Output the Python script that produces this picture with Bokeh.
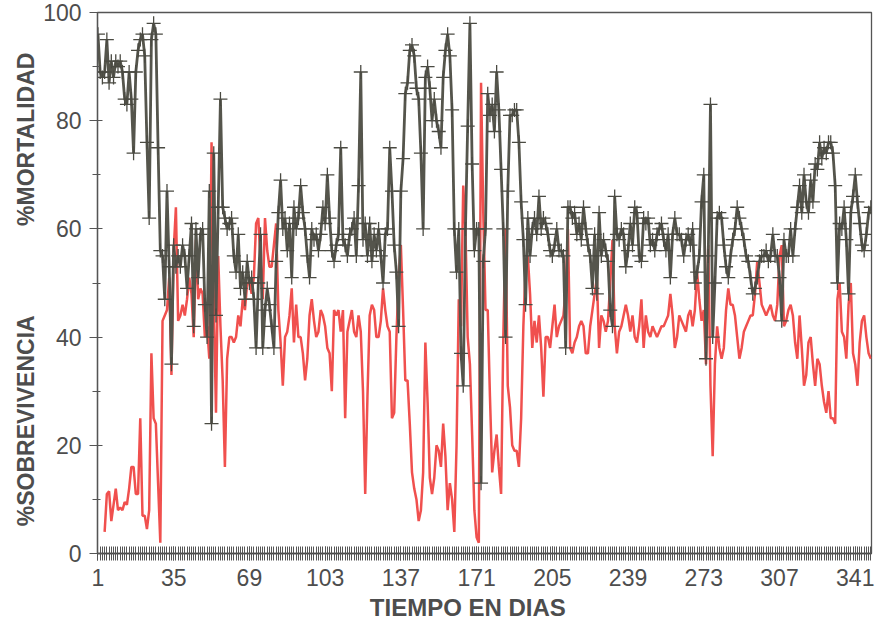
from bokeh.plotting import figure
from bokeh.models import Range1d, FixedTicker
from bokeh.embed import file_html
from bokeh.resources import INLINE

NaN = float("nan")
NB = "\u00a0"

days = list(range(1, 349))

mortalidad = [
    96, 89, 88, 89, 95, 87, 91, 88, 91, 90,
    91, 89, 84, 83, 89, 84, 74, 89, 93, 95,
    96, 92, 76, 62, 95, 98, 96, 75, 56, 55,
    47, 67, 53, 35, 57, 53, 55, 53, 57, 55,
    49, 55, 61, 42, 60, 51, 59, 60, 46, 40,
    67, 24, 74, 44, 64, 84, 64, 62, 60, 61,
    62, 55, 52, 59, 49, 52, 47, 54, 50, 51,
    47, 38, 50, 59, 38, 45, 49, 46, 42, 38,
    54, 63, 69, 60, 62, 56, 61, 51, 64, 60,
    62, 68, 63, 60, 55, 51, 60, 58, 59, 56,
    59, 64, 61, 70, 62, 56, 54, 57, 59, 75,
    58, 57, 55, 59, 60, 62, 55, 68, 89, 58,
    61, 55, 61, 54, 59, 56, 60, 55, 50, 59,
    60, 75, 67, 57, 52, 42, 67, 73, 85, 87,
    93, 94, 92, 86, 84, 74, 60, 88, 90, 86,
    80, 84, 80, 78, 75, 88, 93, 96, 92, 82,
    60, 52, 60, 37, 31, 60, 79, 98, 72, 56,
    60, 60, 13, 54, 60, 85, 81, 83, 78, 89,
    82, 71, 60, 40, 67, 81, 81, 82, 82, 76,
    65, 58, 46, 62, 55, 60, 62, 59, 66, 60,
    62, 61, 59, 56, 55, 57, 60, 56, 56, 55,
    38, 64, 64, 62, 63, 59, 61, 58, 64, 60,
    57, 55, 49, 59, 48, 63, 55, 58, 56, 54,
    45, 42, 66, 59, 58, 60, 59, 53, 56, 61,
    57, 64, 63, 55, 54, 62, 61, 62, 57, 58,
    56, 59, 60, 61, 58, 56, 59, 51, 59, 62,
    59, 59, 58, 55, 58, 59, 57, 60, 50, 52,
    55, 65, 70, 36, 55, 83, 40, 50, 62, 63,
    62, 57, 53, 51, 55, 58, 60, 64, 62, 60,
    58, 55, 54, 51, 48, 49, 51, 54, 55, 55,
    56, 54, 55, 59, 55, 55, 51, 43, 58, 55,
    55, 60, 55, 60, 64, 68, 63, 70, 65, 63,
    69, 65, 72, 71, 76, 73, 75, 74, 76, 76,
    74, 68, 50, 61, 60, 64, 58, 48, 63, 66,
    70, 65, 61, 57, 56, 59, 63, 64,
]

sobrevivencia = [
    NaN, NaN, NaN, 4, 11, 11.5, 6, 9, 12, 8,
    8.5, 8, 9.5, 9, 12, 16, 16, 11, 11, 25,
    7, 7, 4.5, 8, 37, 25, 24, 13, 2, 43,
    44, 45, 51, 33, 56, 64, 43, 44, 46, 44,
    47, 51, 48, 40, 58, 47, 49, 48, 40, 42,
    36, 76, 47, 26, 55, 42, 32, 16, 36, 40,
    40, 39, 40, 44, 42, 47, 45, 50, 50, 48,
    51, 61, 62, 54, 47, 62, 56, 53, 53, 57,
    61, 45, 39, 31, 40, 41, 44, 49, 39, 46,
    40, 40, 37, 32, 36, 44, 47, 43, 40, 41,
    45, 44, 42, 38, 37, 30, 45, 44, 45, 41,
    45, 25, 41, 43, 45, 41, 40, 44, 41, 30,
    11, 29, 44, 46, 45, 40, 40, 43, 49, 45,
    42, 41, 25, 26, 40, 51, 57, 45, 32, 32,
    24, 15, 12, 10, 6, 8, 15, 39, 28, 14,
    11, 14, 20, 19, 16, 24, 18, 8, 13, 10,
    4, 20, 47, 42, 68, 60, 40, 35, 22, 8,
    3, 2, 87, 63, 45, 45, 29, 15, 19, 22,
    16, 11, 40, 60, 31, 27, 20, 19, 19, 16,
    25, 42, 53, 55, 48, 38, 43, 39, 44, 38,
    29, 40, 40, 38, 42, 46, 40, 42, 43, 44,
    49, 60, 38, 37, 39, 40, 42, 43, 42, 37,
    37, 42, 45, 48, 51, 38, 44, 43, 41, 43,
    50, 58, 42, 37, 41, 42, 44, 46, 44, 41,
    44, 40, 39, 42, 47, 38, 44, 41, 40, 42,
    41, 40, 41, 42, 42, 43, 44, 48, 44, 38,
    40, 44, 43, 42, 41, 44, 45, 42, 45, 52,
    47, 43, 45, 35, 57, 31, 18, 35, 42, 38,
    36, 38, 45, 49, 46, 46, 44, 40, 36, 38,
    41, 42, 43, 44, 44, 48, 54, 50, 46, 45,
    44, 45, 46, 44, 43, 46, 55, 57, 42, 43,
    45, 46, 44, 39, 36, 44, 38, 31, 33, 39,
    40, 35, 31, 36, 35, 31, 28, 26, 30, 25,
    25, 24, 47, 50, 41, 40, 36, 46, 50, 37,
    35, 31, 39, 43, 44, 40, 37, 36,
]

x_tick_labels = [1, 35, 69, 103, 137, 171, 205, 239, 273, 307, 341]
y_tick_labels = [0, 20, 40, 60, 80, 100]
y_minor = [10, 30, 50, 70, 90]

x_title = "TIEMPO EN DIAS"
y_title_low = "%SOBREVIVENCIA"
y_title_high = "%MORTALIDAD"

TXT = "#4d4d4d"
FONT = "Liberation Sans"

p = figure(width=875, height=623, output_backend="svg", toolbar_location=None,
           x_range=Range1d(0.8, 348.3), y_range=Range1d(0, 100),
           min_border_left=97, min_border_right=4, min_border_top=12,
           min_border_bottom=60, background_fill_color="white",
           border_fill_color="white")
p.styles = {"margin-bottom": "-18px"}

p.xgrid.grid_line_color = None
p.ygrid.grid_line_color = None
p.outline_line_color = "#555555"
p.outline_line_width = 1.3

# x axis
p.xaxis.ticker = FixedTicker(ticks=x_tick_labels, minor_ticks=days)
p.xaxis.axis_line_color = "#444444"
p.xaxis.axis_line_width = 1.5
p.xaxis.major_tick_in = 7
p.xaxis.major_tick_out = 7
p.xaxis.minor_tick_in = 7
p.xaxis.minor_tick_out = 7
p.xaxis.major_tick_line_color = "#555555"
p.xaxis.minor_tick_line_color = "#555555"
p.xaxis.major_label_text_font = FONT
p.xaxis.major_label_text_font_size = "23px"
p.xaxis.major_label_text_color = TXT
p.xaxis.major_label_standoff = 8
p.xaxis.axis_label = x_title + NB * 5
p.xaxis.axis_label_text_font = FONT
p.xaxis.axis_label_text_font_size = "24px"
p.xaxis.axis_label_text_font_style = "bold"
p.xaxis.axis_label_text_color = TXT
p.xaxis.axis_label_standoff = 5

# y axis
p.yaxis.ticker = FixedTicker(ticks=y_tick_labels, minor_ticks=y_minor)
p.yaxis.axis_line_color = "#555555"
p.yaxis.axis_line_width = 1.3
p.yaxis.major_tick_in = 5
p.yaxis.major_tick_out = 8
p.yaxis.minor_tick_in = 3
p.yaxis.minor_tick_out = 5
p.yaxis.major_tick_line_color = "#555555"
p.yaxis.minor_tick_line_color = "#555555"
p.yaxis.major_label_text_font = FONT
p.yaxis.major_label_text_font_size = "23px"
p.yaxis.major_label_text_color = TXT
p.yaxis.major_label_standoff = 8
p.yaxis.axis_label = y_title_low + NB * 14 + y_title_high + NB * 2
p.yaxis.axis_label_text_font = FONT
p.yaxis.axis_label_text_font_size = "23px"
p.yaxis.axis_label_text_font_style = "bold"
p.yaxis.axis_label_text_color = TXT
p.yaxis.axis_label_standoff = 1

# series
p.line(days, sobrevivencia, line_color="#f0504e", line_width=2.5)
p.line(days, mortalidad, line_color="#55554c", line_width=2.8)
p.scatter(days, mortalidad, marker="cross", size=14, line_color="#4a4a42",
          line_width=1.3)

open("out.html", "w").write(file_html(p, INLINE))
